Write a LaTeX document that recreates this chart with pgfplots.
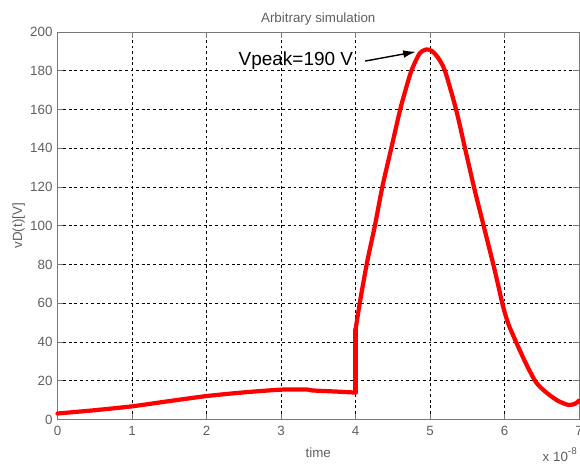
\documentclass[border=0pt]{standalone}
\usepackage{fontspec}
\setmainfont{Liberation Sans}
\usepackage{pgfplots}
\pgfplotsset{compat=1.18}
\usetikzlibrary{arrows.meta}
\definecolor{axgray}{RGB}{120,120,120}
\definecolor{txtgray}{RGB}{95,95,95}

\begin{document}
\begin{tikzpicture}
% frame of the 580x464 picture, 1px = 0.025cm
\path[use as bounding box] (-1.4375,-1.1125) rectangle (13.0625,10.4875);
\clip (-1.4375,-1.1125) rectangle (13.0625,10.4875);
\begin{axis}[
  scale only axis, width=13.0375cm, height=9.6875cm,
  at={(0,0)}, anchor=south west,
  xmin=0, xmax=7, ymin=0, ymax=200,
  xtick={0,1,...,7}, ytick={0,20,...,200},
  grid=major,
  major grid style={black, line width=0.45pt, dash pattern=on 2pt off 2pt},
  tick align=inside,
  major tick length=4pt,
  axis line style={axgray, line width=0.6pt},
  tick style={axgray, line width=0.5pt},
  ticklabel style={font=\fontsize{9.5}{11}\selectfont, text=txtgray},
  xticklabel style={yshift=-1.5pt},
  /pgf/number format/assume math mode=true,
  title={Arbitrary simulation},
  title style={font=\fontsize{9.5}{11}\selectfont, text=txtgray, yshift=-4.5pt},
  xlabel={time}, ylabel={vD(t)[V]},
  label style={font=\fontsize{9.5}{11}\selectfont, text=txtgray},
  xlabel style={yshift=-1.5pt},
  ylabel style={yshift=-3pt},
  clip=false,
]
% slow part before the switch
\addplot[red, line width=3pt, smooth, tension=0.4, line cap=round] coordinates {
  (0,3.1) (0.5,4.8) (1,6.8) (1.5,9.5) (2,12.1) (2.5,14.0) (3,15.4)
  (3.35,15.5) (3.42,15.0) (3.7,14.5) (4,13.9)
};
% step at t = 4e-8
\addplot[red, line width=3pt, line cap=round] coordinates {(4,13.9) (4,46.3)};
% pulse
\addplot[red, line width=3pt, smooth, tension=0.45, line cap=round] coordinates {
  (4,46.3) (4.07,63) (4.16,82) (4.26,100) (4.36,120) (4.48,140)
  (4.60,160) (4.675,170.5) (4.75,180) (4.85,188.3) (4.9,190.2)
  (4.955,191) (5.02,190.3) (5.1,187.2) (5.2,180) (5.35,160)
  (5.47,140) (5.59,120) (5.72,100) (5.85,80) (5.92,68.5) (5.98,58.5)
  (6.05,49.5) (6.15,40.5) (6.28,29.5) (6.41,20) (6.5,16) (6.61,12.5)
  (6.72,9.6) (6.86,7.5) (6.95,8.2) (7,9.7)
};
\node[font=\fontsize{13.5}{15}\selectfont] at (axis cs:3.2,185) {Vpeak=190 V};
\draw[-{Latex[length=9pt,width=5.5pt]}, line width=1pt]
  (axis cs:4.13,185) -- (axis cs:4.81,189.8);
\node[anchor=base west, font=\fontsize{9.5}{11}\selectfont, text=txtgray, inner sep=0pt]
  at ([xshift=-26pt,yshift=-30pt]rel axis cs:1,0)
  {x 10\raisebox{5pt}{\fontsize{7}{8}\selectfont -8}};
\end{axis}
\end{tikzpicture}
\end{document}
